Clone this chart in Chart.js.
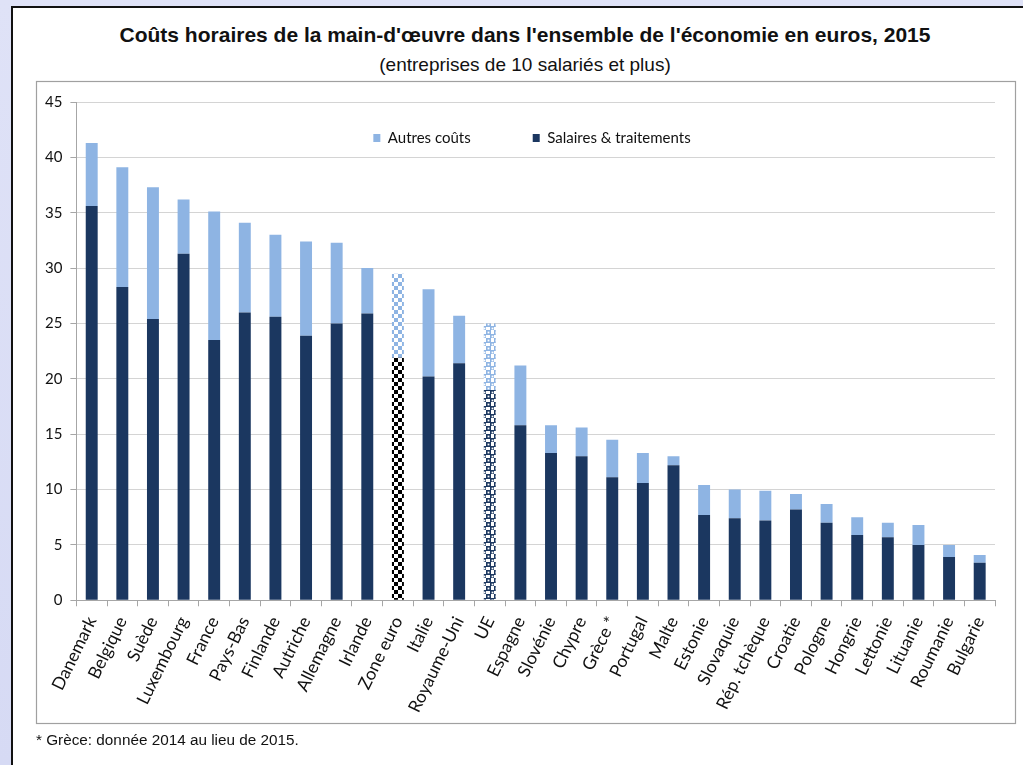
<!DOCTYPE html>
<html lang="fr">
<head>
<meta charset="utf-8">
<script src="https://cdn.jsdelivr.net/npm/chart.js@4.4.1/dist/chart.umd.min.js"></script>
<style>
  html, body { margin: 0; padding: 0; overflow: hidden; width: 1023px; height: 765px; }
  body { background: linear-gradient(180deg, #dfe2f7 0%, #d6daf4 100%); position: relative; }
  #sheet {
    position: absolute; left: 11px; top: 6px; right: -4px; bottom: -4px;
    background: #fff; border-left: 2px solid #111; border-top: 2px solid #111;
  }
  .head {
    position: absolute; left: 25px; width: 1000px; text-align: center; color: #111;
    font-family: "Liberation Sans", Arial, sans-serif; white-space: nowrap;
  }
  #title { top: 23px; font-size: 21px; font-weight: bold; }
  #subtitle { top: 54px; font-size: 19px; }
  #wrap { position: absolute; left: 30px; top: 10px; width: 990px; height: 800px; }
  #note {
    position: absolute; left: 36px; top: 731px;
    font-family: "Liberation Sans", Arial, sans-serif; font-size: 15.3px; color: #111;
  }
</style>
</head>
<body>
<div id="sheet"></div>
<div id="title" class="head">Coûts horaires de la main-d'œuvre dans l'ensemble de l'économie en euros, 2015</div>
<div id="subtitle" class="head">(entreprises de 10 salariés et plus)</div>
<div id="wrap"><canvas id="chart"></canvas></div>
<div id="note">* Grèce: donnée 2014 au lieu de 2015.</div>
<script>
// values (euros per hour)
const categories = ["Danemark", "Belgique", "Suède", "Luxembourg", "France", "Pays-Bas", "Finlande",
  "Autriche", "Allemagne", "Irlande", "Zone euro", "Italie", "Royaume-Uni", "UE", "Espagne",
  "Slovénie", "Chypre", "Grèce *", "Portugal", "Malte", "Estonie", "Slovaquie", "Rép. tchèque",
  "Croatie", "Pologne", "Hongrie", "Lettonie", "Lituanie", "Roumanie", "Bulgarie"]
const salaires = [35.6, 28.3, 25.4, 31.3, 23.5, 26.0, 25.6, 23.9, 25.0, 25.9,
  21.9, 20.2, 21.4, 19.0, 15.8, 13.3, 13.0, 11.1, 10.6, 12.2,
  7.7, 7.4, 7.2, 8.2, 7.0, 5.9, 5.7, 5.0, 3.9, 3.4]
const autres = [5.7, 10.8, 11.9, 4.9, 11.6, 8.1, 7.4, 8.5, 7.3, 4.1,
  7.6, 7.9, 4.3, 6.0, 5.4, 2.5, 2.6, 3.4, 2.7, 0.8,
  2.7, 2.6, 2.7, 1.4, 1.7, 1.6, 1.3, 1.8, 1.1, 0.7]
const yTicks = [0, 5, 10, 15, 20, 25, 30, 35, 40, 45]

const NAVY = "#1b3760"
const LIGHT = "#8eb4e3"
const ZONE_EURO = categories.indexOf("Zone euro")
const UE = categories.indexOf("UE")

// checkerboard fill (zone euro)
function checker(color) {
  const c = document.createElement("canvas")
  c.width = 8; c.height = 8
  const g = c.getContext("2d")
  g.fillStyle = "#fff"; g.fillRect(0, 0, 8, 8)
  g.fillStyle = color
  g.fillRect(0, 0, 4, 4); g.fillRect(4, 4, 4, 4)
  return g.createPattern(c, "repeat")
}

// hollow squares fill (UE)
function rings(color) {
  const c = document.createElement("canvas")
  c.width = 8; c.height = 8
  const g = c.getContext("2d")
  g.fillStyle = "#fff"; g.fillRect(0, 0, 8, 8)
  g.strokeStyle = color; g.lineWidth = 1.6
  g.strokeRect(0.8, 0.8, 3.4, 3.4); g.strokeRect(4.8, 4.8, 3.4, 3.4)
  return g.createPattern(c, "repeat")
}

const salColors = categories.map((c, i) => i === ZONE_EURO ? checker("#000") : i === UE ? rings(NAVY) : NAVY)
const autColors = categories.map((c, i) => i === ZONE_EURO ? checker(LIGHT) : i === UE ? rings(LIGHT) : LIGHT)

const LEGEND_PAD = 62
const LEGEND_FONT = 15

// frame around the plot + legend moved inside the plot area
const framePlugin = {
  id: "frame",
  afterUpdate(chart) {
    const lg = chart.legend
    const h = lg.height
    lg.top = chart.chartArea.top + 36 - LEGEND_PAD - LEGEND_FONT / 2
    lg.bottom = lg.top + h
    lg.left += 16
    lg.right += 16
    lg.adjustHitBoxes()
  },
  beforeDraw(chart) {
    const ctx = chart.ctx
    ctx.save()
    ctx.strokeStyle = "#a0a0a0"
    ctx.lineWidth = 1.2
    ctx.strokeRect(6.5, 71.5, 979, 642)
    ctx.restore()
  }
}

new Chart(document.getElementById("chart"), {
  type: "bar",
  data: {
    labels: categories,
    datasets: [
      { label: "Salaires & traitements", data: salaires, backgroundColor: salColors, borderWidth: 0 },
      { label: "Autres coûts", data: autres, backgroundColor: autColors, borderWidth: 0 },
    ],
  },
  options: {
    responsive: true,
    maintainAspectRatio: false,
    animation: false,
    layout: { padding: { left: 7, right: 25, top: 92, bottom: 0 } },
    datasets: { bar: { categoryPercentage: 1, barPercentage: 0.39 } },
    scales: {
      x: {
        stacked: true,
        grid: { display: true, drawOnChartArea: false, drawTicks: true, tickLength: 6, color: "#a6a6a6", offset: true },
        border: { color: "#a6a6a6" },
        ticks: { maxRotation: 64, minRotation: 64, padding: 7, color: "#111", font: { family: "Lato, 'Open Sans', sans-serif", size: 17.5 } },
      },
      y: {
        stacked: true,
        min: 0,
        max: 45,
        afterBuildTicks: axis => { axis.ticks = yTicks.map(v => ({ value: v })) },
        grid: { color: "#d4d4d4", tickLength: 6, tickColor: "#a6a6a6" },
        border: { color: "#a6a6a6" },
        ticks: { padding: 8, color: "#111", font: { family: "Lato, 'Open Sans', sans-serif", size: 15 } },
      },
    },
    plugins: {
      legend: {
        position: "bottom",
        reverse: true,
        labels: {
          boxWidth: 7,
          boxHeight: 8,
          padding: LEGEND_PAD,
          color: "#111",
          font: { family: "Lato, 'Open Sans', sans-serif", size: LEGEND_FONT },
        },
      },
      tooltip: { enabled: false },
    },
  },
  plugins: [framePlugin],
})
</script>
</body>
</html>
